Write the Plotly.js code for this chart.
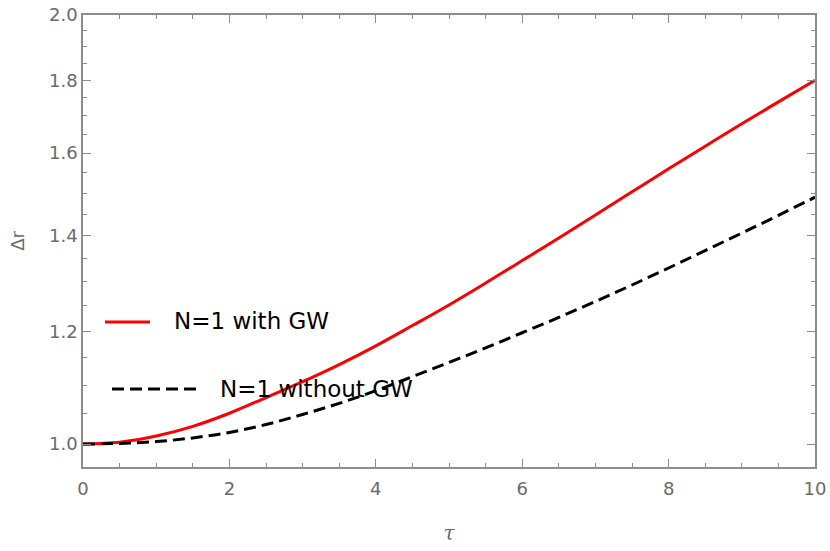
<!DOCTYPE html>
<html>
<head>
<meta charset="utf-8">
<script src="https://cdn.plot.ly/plotly-3.0.1.min.js"></script>
<style>
  html, body { margin: 0; padding: 0; background: #fff; }
  #myDiv { width: 830px; height: 551px; }
</style>
</head>
<body>
<div id="myDiv"></div>
<script>
// tau values
var tau = [0, 0.5, 1, 1.5, 2, 2.5, 3, 3.5, 4, 4.5, 5, 5.5, 6, 6.5, 7, 7.5, 8, 8.5, 9, 9.5, 10];
// N=1 with GW
var drWithGW = [1.000, 1.003, 1.013, 1.029, 1.051, 1.078, 1.106, 1.137, 1.172, 1.211, 1.252,
                1.297, 1.345, 1.395, 1.448, 1.503, 1.560, 1.618, 1.678, 1.738, 1.800];
// N=1 without GW
var drNoGW = [1.000, 1.001, 1.004, 1.010, 1.019, 1.032, 1.049, 1.068, 1.090, 1.115, 1.141,
              1.168, 1.197, 1.227, 1.259, 1.293, 1.329, 1.367, 1.406, 1.447, 1.490];

var yTicks = [1.0, 1.2, 1.4, 1.6, 1.8, 2.0];
var yTickText = ['1.0', '1.2', '1.4', '1.6', '1.8', '2.0'];
var yMinor = [0.95, 1.05, 1.1, 1.15, 1.25, 1.3, 1.35, 1.45, 1.5, 1.55, 1.65, 1.7, 1.75, 1.85, 1.9, 1.95];

var names = ['N=1 with GW', 'N=1 without GW'];

var frame = '#8c8c8c';
var tickFont = {family: 'DejaVu Sans, sans-serif', size: 18, color: '#6a6a6a'};
var legFont = {family: 'DejaVu Sans, sans-serif', size: 23, color: '#000000'};

var data = [{
  x: tau,
  y: drWithGW,
  type: 'scatter',
  mode: 'lines',
  name: names[0],
  line: {shape: 'spline', width: 3, color: '#ff0000'}
}, {
  x: tau,
  y: drNoGW,
  type: 'scatter',
  mode: 'lines',
  name: names[1],
  line: {shape: 'spline', width: 3, color: '#000000', dash: '12px,6px'}
}];

var layout = {
  width: 830,
  height: 551,
  margin: {l: 83, r: 15, t: 15, b: 84},
  paper_bgcolor: '#ffffff',
  plot_bgcolor: '#ffffff',
  showlegend: false,
  xaxis: {
    range: [0, 10],
    tickvals: [0, 2, 4, 6, 8, 10],
    ticks: 'inside',
    ticklen: 8,
    tickwidth: 1,
    tickcolor: frame,
    showline: true,
    linecolor: frame,
    linewidth: 1.5,
    mirror: 'ticks',
    showgrid: false,
    zeroline: false,
    tickfont: tickFont,
    ticklabelstandoff: 5,
    minor: {dtick: 0.5, ticks: 'inside', ticklen: 4, tickcolor: frame, showgrid: false},
    title: {text: '<i>τ</i>', font: {family: 'DejaVu Serif, serif', size: 20, color: '#6a6a6a'}, standoff: 28}
  },
  yaxis: {
    type: 'log',
    range: [-0.0161, Math.log10(2)],
    tickmode: 'array',
    tickvals: yTicks,
    ticktext: yTickText,
    ticks: 'inside',
    ticklen: 8,
    tickwidth: 1,
    tickcolor: frame,
    showline: true,
    linecolor: frame,
    linewidth: 1.5,
    mirror: 'ticks',
    showgrid: false,
    zeroline: false,
    tickfont: tickFont,
    minor: {tickmode: 'array', tickvals: yMinor, ticks: 'inside', ticklen: 4, tickcolor: frame, showgrid: false},
    title: {text: 'Δr', font: {family: 'DejaVu Sans, sans-serif', size: 18, color: '#6a6a6a'}, standoff: 20}
  },
  // legend drawn inside the frame, Mathematica style
  shapes: [
    {type: 'line', xref: 'paper', yref: 'paper', x0: 0.030, x1: 0.0915, y0: 0.3208, y1: 0.3208,
     line: {color: '#ff0000', width: 3}},
    {type: 'line', xref: 'paper', yref: 'paper', x0: 0.0396, x1: 0.1557, y0: 0.1726, y1: 0.1726,
     line: {color: '#000000', width: 3, dash: '12px,6px'}}
  ],
  annotations: [
    {xref: 'paper', yref: 'paper', x: 0.1216, y: 0.3230, xanchor: 'left', yanchor: 'middle',
     text: names[0], showarrow: false, font: legFont},
    {xref: 'paper', yref: 'paper', x: 0.1844, y: 0.1726, xanchor: 'left', yanchor: 'middle',
     text: names[1], showarrow: false, font: legFont}
  ]
};

Plotly.newPlot('myDiv', data, layout, {displayModeBar: false});
</script>
</body>
</html>
